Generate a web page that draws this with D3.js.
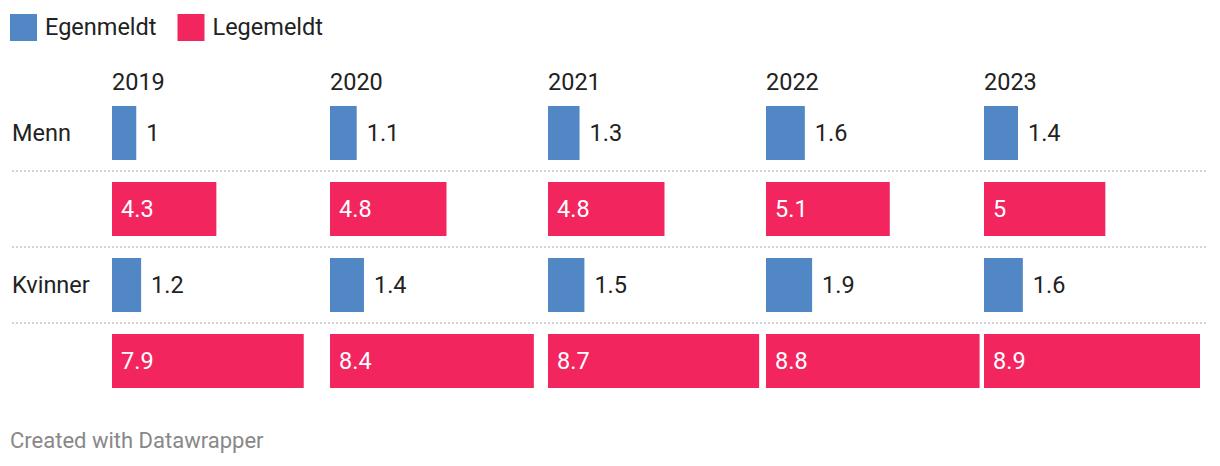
<!DOCTYPE html>
<html><head><meta charset="utf-8">
<script src="https://cdn.jsdelivr.net/npm/d3@7"></script>
<style>
html,body{margin:0;padding:0;background:#fff;}
svg{display:block;font-family:Roboto,"Noto Sans",sans-serif;}
</style></head>
<body><svg id="c" width="1220" height="466"></svg>
<script>
const years = ["2019","2020","2021","2022","2023"];
const groups = ["Menn","Kvinner"];
const seriesNames = ["Egenmeldt","Legemeldt"];
const seriesColors = ["#5287c5","#f2255f"];
const mennEgenmeldt = [1,1.1,1.3,1.6,1.4];
const mennLegemeldt = [4.3,4.8,4.8,5.1,5];
const kvinnerEgenmeldt = [1.2,1.4,1.5,1.9,1.6];
const kvinnerLegemeldt = [7.9,8.4,8.7,8.8,8.9];

const rows = [
  {group:"Menn", series:0, values:mennEgenmeldt},
  {group:"Menn", series:1, values:mennLegemeldt},
  {group:"Kvinner", series:0, values:kvinnerEgenmeldt},
  {group:"Kvinner", series:1, values:kvinnerLegemeldt}
];
rows.forEach((r,i)=>r.key="r"+i);

const svg = d3.select("#c");
const FS = 23.5;

// legend
const leg = svg.append("g");
let lx = 10;
seriesNames.forEach((name,i)=>{
  leg.append("rect").attr("x",lx).attr("y",14).attr("width",27).attr("height",27).attr("fill",seriesColors[i]);
  const t = leg.append("text").attr("x",lx+35).attr("y",35).attr("font-size",FS).attr("fill","#222").text(name);
  lx += 35 + t.node().getComputedTextLength() + 21;
});

const colScale = d3.scaleBand().domain(years).range([112,112+5*218]);
const x = d3.scaleLinear().domain([0,8.9]).range([0,216]);
const y = d3.scaleBand().domain(rows.map(r=>r.key)).range([106,388]).paddingInner(22/76);

// year headers
svg.append("g").selectAll("text").data(years).join("text")
  .attr("x",d=>colScale(d)).attr("y",90).attr("font-size",FS).attr("fill","#222").text(d=>d);

// separators
const seps = rows.slice(1).map(r=>y(r.key) - (y.step()-y.bandwidth())/2);
svg.append("g").selectAll("line").data(seps).join("line")
  .attr("x1",12).attr("x2",1208).attr("y1",d=>d).attr("y2",d=>d)
  .attr("stroke","#d4d4d4").attr("stroke-width",2).attr("stroke-dasharray","2,2");

// group labels
groups.forEach(g=>{
  const r = rows.find(rr=>rr.group===g && rr.series===0);
  svg.append("text").attr("x",12).attr("y",y(r.key)+y.bandwidth()/2).attr("dy","0.35em")
    .attr("font-size",FS).attr("fill","#222").text(g);
});

// bars
rows.forEach(r=>{
  const g = svg.append("g");
  const data = years.map((yr,i)=>({yr, v:r.values[i]}));
  g.selectAll("rect").data(data).join("rect")
    .attr("x",d=>colScale(d.yr)).attr("y",y(r.key))
    .attr("width",d=>x(d.v)).attr("height",y.bandwidth())
    .attr("fill",seriesColors[r.series]);
  g.selectAll("text").data(data).join("text")
    .attr("x",d=> x(d.v)>60 ? colScale(d.yr)+9 : colScale(d.yr)+x(d.v)+10)
    .attr("y",y(r.key)+y.bandwidth()/2).attr("dy","0.35em")
    .attr("font-size",FS)
    .attr("fill",d=> x(d.v)>60 ? "#fff" : "#222")
    .text(d=>d3.format("")(d.v));
});

// footer
svg.append("text").attr("x",10).attr("y",448).attr("font-size",22).attr("fill","#888").text("Created with Datawrapper");
</script></body></html>
